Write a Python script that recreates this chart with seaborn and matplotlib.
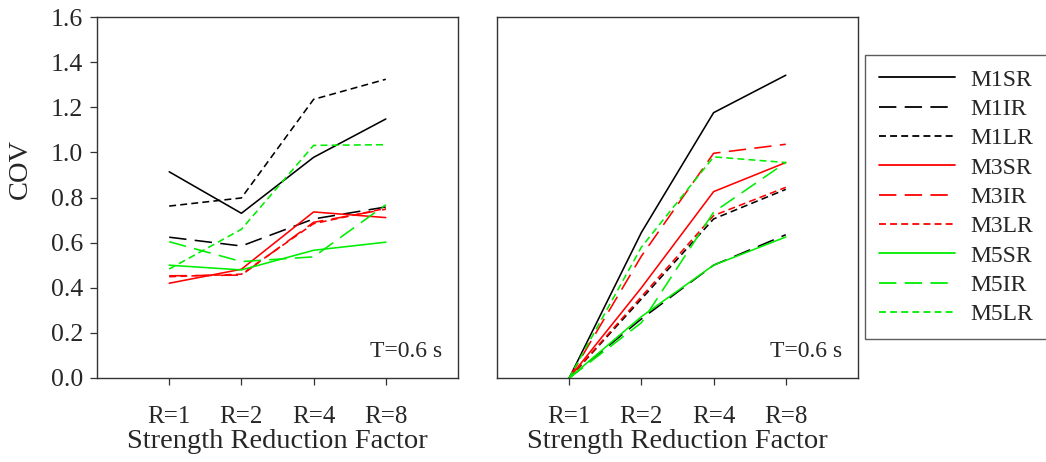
import numpy as np
import pandas as pd
import matplotlib
matplotlib.use("Agg")
import matplotlib.pyplot as plt
import seaborn as sns

# ---- data ----
r_labels = ["R=1", "R=2", "R=4", "R=8"]
series = ["M1SR", "M1IR", "M1LR", "M3SR", "M3IR", "M3LR", "M5SR", "M5IR", "M5LR"]

left_M1SR = [0.914, 0.730, 0.978, 1.148]
left_M1IR = [0.624, 0.585, 0.705, 0.758]
left_M1LR = [0.762, 0.798, 1.235, 1.324]
left_M3SR = [0.420, 0.482, 0.736, 0.711]
left_M3IR = [0.453, 0.456, 0.690, 0.748]
left_M3LR = [0.449, 0.460, 0.684, 0.752]
left_M5SR = [0.500, 0.479, 0.566, 0.602]
left_M5IR = [0.604, 0.516, 0.537, 0.768]
left_M5LR = [0.483, 0.659, 1.031, 1.034]

right_M1SR = [0.0, 0.645, 1.176, 1.342]
right_M1IR = [0.0, 0.262, 0.500, 0.635]
right_M1LR = [0.0, 0.350, 0.705, 0.836]
right_M3SR = [0.0, 0.400, 0.826, 0.955]
right_M3IR = [0.0, 0.540, 0.996, 1.036]
right_M3LR = [0.0, 0.360, 0.720, 0.845]
right_M5SR = [0.0, 0.272, 0.500, 0.625]
right_M5IR = [0.0, 0.245, 0.735, 0.955]
right_M5LR = [0.0, 0.580, 0.980, 0.955]

left_vals = [left_M1SR, left_M1IR, left_M1LR, left_M3SR, left_M3IR, left_M3LR,
             left_M5SR, left_M5IR, left_M5LR]
right_vals = [right_M1SR, right_M1IR, right_M1LR, right_M3SR, right_M3IR, right_M3LR,
              right_M5SR, right_M5IR, right_M5LR]

# ---- styles ----
GREEN = "#00ee00"
palette = {"M1SR": "black", "M1IR": "black", "M1LR": "black",
           "M3SR": "red", "M3IR": "red", "M3LR": "red",
           "M5SR": GREEN, "M5IR": GREEN, "M5LR": GREEN}
LONG = (12.5, 6.0)
SHORT = (5.0, 3.0)
dashes = {"M1SR": "", "M1IR": LONG, "M1LR": SHORT,
          "M3SR": "", "M3IR": LONG, "M3LR": SHORT,
          "M5SR": "", "M5IR": LONG, "M5LR": SHORT}

sns.set_theme(style="white")
plt.rcParams["font.family"] = ["Liberation Serif", "DejaVu Serif"]
plt.rcParams["lines.scale_dashes"] = False


def make_df(vals):
    rows = []
    for name, v in zip(series, vals):
        for i, y in enumerate(v):
            rows.append({"series": name, "pos": i + 1, "COV": y})
    return pd.DataFrame(rows)


W, H = 1046, 462
fig = plt.figure(figsize=(W / 100, H / 100), dpi=100)
axL = fig.add_axes([97 / W, 1 - 378 / H, 361 / W, 361 / H])
axR = fig.add_axes([497 / W, 1 - 378 / H, 361 / W, 361 / H])

for ax, vals in [(axL, left_vals), (axR, right_vals)]:
    df = make_df(vals)
    sns.lineplot(data=df, x="pos", y="COV", hue="series", style="series",
                 palette=palette, dashes=dashes, hue_order=series,
                 style_order=series, linewidth=1.15, ax=ax, legend=True)
    ax.set_xlim(0, 5)
    ax.set_ylim(0, 1.6)
    ax.set_xticks(range(1, 5))
    ax.set_xticklabels(r_labels, fontsize=18)
    ax.set_xlabel("Strength Reduction Factor", fontsize=20.5, labelpad=1)
    ax.text(0.955, 0.045, "T=0.6 s", transform=ax.transAxes, ha="right",
            va="bottom", fontsize=17)
    for s in ax.spines.values():
        s.set_color("#333333")
        s.set_linewidth(1.0)
    ax.tick_params(axis="x", direction="out", length=5, width=0.9,
                   color="#333333", pad=15, bottom=True)

handles, labels = axL.get_legend_handles_labels()
axL.get_legend().remove()
axR.get_legend().remove()

axL.set_yticks(np.arange(0, 1.61, 0.2))
axL.set_yticklabels([f"{t:.1f}" for t in np.arange(0, 1.61, 0.2)], fontsize=18.5)
axL.tick_params(axis="y", direction="out", length=5, width=0.9,
                color="#333333", pad=5, left=True)
axL.set_ylabel("COV", fontsize=20.5, va="center")
axL.yaxis.set_label_coords(-0.213, 0.58)

axR.set_yticks([])
axR.set_ylabel("")

leg = fig.legend(handles, labels, loc="upper left",
                 bbox_to_anchor=(865 / W, 1 - 55 / H),
                 fontsize=17, frameon=True, fancybox=False,
                 handlelength=3.2, handletextpad=0.65, labelspacing=0.33,
                 borderpad=0.6, borderaxespad=0)
leg.get_frame().set_edgecolor("#333333")
leg.get_frame().set_linewidth(1.0)
for line in leg.get_lines():
    line.set_linewidth(1.3)

fig.savefig("out.png", dpi=100)
